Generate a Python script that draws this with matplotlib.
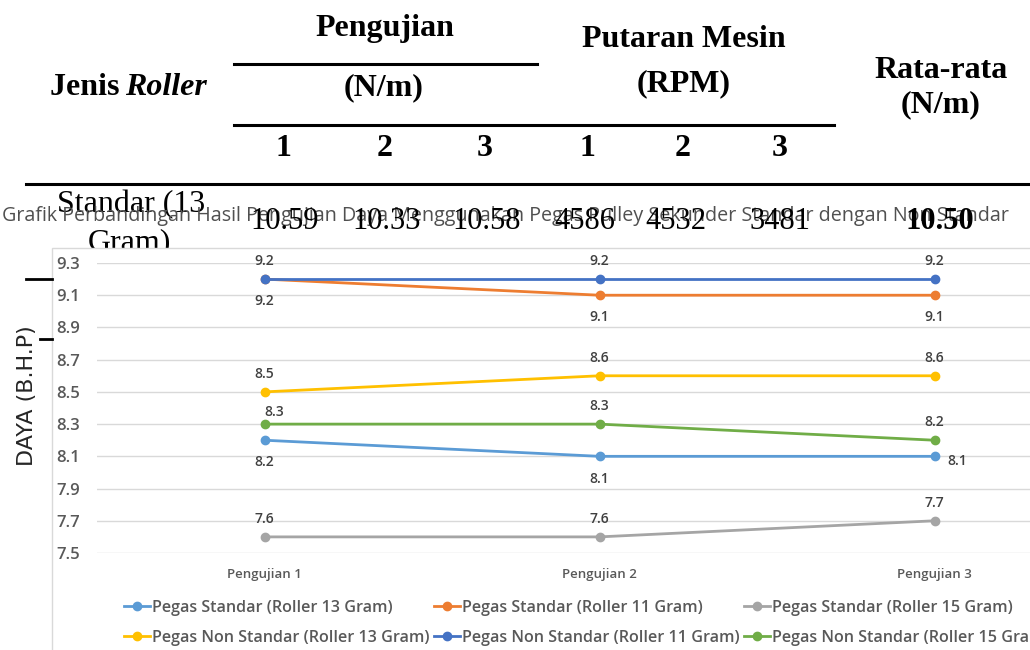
import matplotlib
matplotlib.use("Agg")
import matplotlib.pyplot as plt
from matplotlib.patches import Rectangle

# chart data
categories = ["Pengujian 1", "Pengujian 2", "Pengujian 3"]
series_names = [
    "Pegas Standar (Roller 13 Gram)",
    "Pegas Standar (Roller 11 Gram)",
    "Pegas Standar (Roller 15 Gram)",
    "Pegas Non Standar (Roller 13 Gram)",
    "Pegas Non Standar (Roller 11 Gram)",
    "Pegas Non Standar (Roller 15 Gram)",
]
std_13 = [8.2, 8.1, 8.1]
std_11 = [9.2, 9.1, 9.1]
std_15 = [7.6, 7.6, 7.7]
non_13 = [8.5, 8.6, 8.6]
non_11 = [9.2, 9.2, 9.2]
non_15 = [8.3, 8.3, 8.2]
colors = ["#5B9BD5", "#ED7D31", "#A5A5A5", "#FFC000", "#4472C4", "#70AD47"]
# label placement per series: above / below / right
label_pos = [["below", "below", "right"], ["below"] * 3, ["above"] * 3,
             ["above"] * 3, ["above"] * 3, ["above_r", "above", "above"]]
yticks = [7.5, 7.7, 7.9, 8.1, 8.3, 8.5, 8.7, 8.9, 9.1, 9.3]

# table overlay data
tbl_head_cols = ["1", "2", "3", "1", "2", "3"]
tbl_col_x = [283, 385, 485, 587, 683, 780]
row_vals = ["10.59", "10.33", "10.58", "4586", "4532", "3481"]
row_mean = "10.50"

W, H = 1030, 650
fig = plt.figure(figsize=(W / 100, H / 100), dpi=100)
fig.patch.set_facecolor("white")

serif = "Liberation Serif"
sans = "Open Sans"

# background layer: table header in pixel coords
bg = fig.add_axes([0, 0, 1, 1], zorder=0)
bg.set_xlim(0, W); bg.set_ylim(H, 0); bg.axis("off")
hd = dict(family=serif, fontsize=23, fontweight="bold", color="black")
bg.text(385, 36, "Pengujian", ha="center", va="baseline", **hd)
bg.text(384, 95, "(N/m)", ha="center", va="baseline", **hd)
bg.text(684, 47, "Putaran Mesin", ha="center", va="baseline", **hd)
bg.text(684, 91, "(RPM)", ha="center", va="baseline", **hd)
bg.text(941, 78, "Rata-rata", ha="center", va="baseline", **hd)
bg.text(941, 112, "(N/m)", ha="center", va="baseline", **hd)
bg.text(50, 95, "Jenis ", ha="left", va="baseline", **hd)
bg.text(125, 95, "Roller", ha="left", va="baseline", family=serif, fontsize=23,
        fontweight="bold", style="italic")
for x, t in zip(tbl_col_x, tbl_head_cols):
    bg.text(x, 156, t, ha="center", va="baseline", **hd)
bg.plot([234, 537], [64, 64], color="black", lw=2.2)
bg.plot([234, 834], [125, 125], color="black", lw=2.2)
bg.plot([26, W], [184, 184], color="black", lw=2.2)
bg.text(57, 212, "Standar (13", ha="left", va="baseline", family=serif, fontsize=23)
bg.text(88, 250, "Gram)", ha="left", va="baseline", family=serif, fontsize=23)
# chart image area covers the table below
bg.add_patch(Rectangle((52, 248), W, H, facecolor="white", edgecolor="#D9D9D9",
                       lw=1, zorder=10))
bg.text(27, 396, "DAYA (B.H.P)", rotation=90, ha="center", va="center",
        fontsize=16, color="#262626", zorder=11)

# the chart
ax = fig.add_axes([97 / W, (H - 553) / H, 1005 / W, 290 / H], zorder=1)
ax.patch.set_visible(False)
all_series = [std_13, std_11, std_15, non_13, non_11, non_15]
xs = list(range(len(categories)))
handles = []
for vals, c, name, lp in zip(all_series, colors, series_names, label_pos):
    h, = ax.plot(xs, vals, color=c, lw=2, marker="o", ms=6, label=name, zorder=3)
    handles.append(h)
    for x, v, p in zip(xs, vals, lp):
        if p == "above":
            off, ha = (0, 13), "center"
        elif p == "above_r":
            off, ha = (7, 8.5), "center"
        elif p == "below":
            off, ha = (0, -16), "center"
        else:
            off, ha = (9, -3.5), "left"
        ax.annotate(f"{v:.1f}", (x, v), xytext=off, textcoords="offset points",
                    ha=ha, va="center", family=sans, fontsize=10,
                    fontweight="semibold", color="#404040")
ax.set_xlim(-0.5, 2.5)
ax.set_ylim(7.5, 9.3)
ax.set_yticks(yticks)
ax.set_yticklabels([f"{t:.1f}" for t in yticks])
ax.set_xticks(xs)
ax.set_xticklabels(categories)
ax.grid(axis="y", color="#D9D9D9", lw=1)
ax.set_axisbelow(True)
for s in ax.spines.values():
    s.set_visible(False)
ax.tick_params(axis="both", length=0)
ax.tick_params(axis="y", pad=12, labelsize=12, labelcolor="#595959")
ax.tick_params(axis="x", pad=11, labelsize=9.5, labelcolor="#595959")
for lab in ax.get_yticklabels() + ax.get_xticklabels():
    lab.set_family(sans)
    lab.set_fontweight("semibold")
order = [0, 3, 1, 4, 2, 5]
ax.legend([handles[i] for i in order], [series_names[i] for i in order],
          ncol=3, loc="upper left", bbox_to_anchor=(124 / W, 1 - 600 / H),
          bbox_transform=fig.transFigure, frameon=False, borderpad=0,
          borderaxespad=0, handlelength=1.6, handletextpad=0.12,
          columnspacing=0.3, labelspacing=0.85,
          prop=dict(family=sans, size=11.6, weight="semibold"),
          labelcolor="#595959")

# top layer: title and table numbers drawn over the chart
top = fig.add_axes([0, 0, 1, 1], zorder=2)
top.set_xlim(0, W); top.set_ylim(H, 0); top.axis("off")
top.text(2, 221, "Grafik Perbandingan Hasil Pengujian Daya Menggunakan Pegas Pulley "
         "Sekunder Standar dengan Non Standar", ha="left", va="baseline",
         family=sans, fontsize=14.2, color="#505050")
for x, t in zip([285, 387, 487, 585, 676, 780], row_vals):
    top.text(x, 229, t, ha="center", va="baseline", family=serif, fontsize=22)
top.text(940, 229, row_mean, ha="center", va="baseline", family=serif,
         fontsize=22, fontweight="bold")
top.plot([26, 52], [279, 279], color="black", lw=2)
top.plot([40, 52], [339, 339], color="black", lw=2)

fig.savefig("out.png", dpi=100)
